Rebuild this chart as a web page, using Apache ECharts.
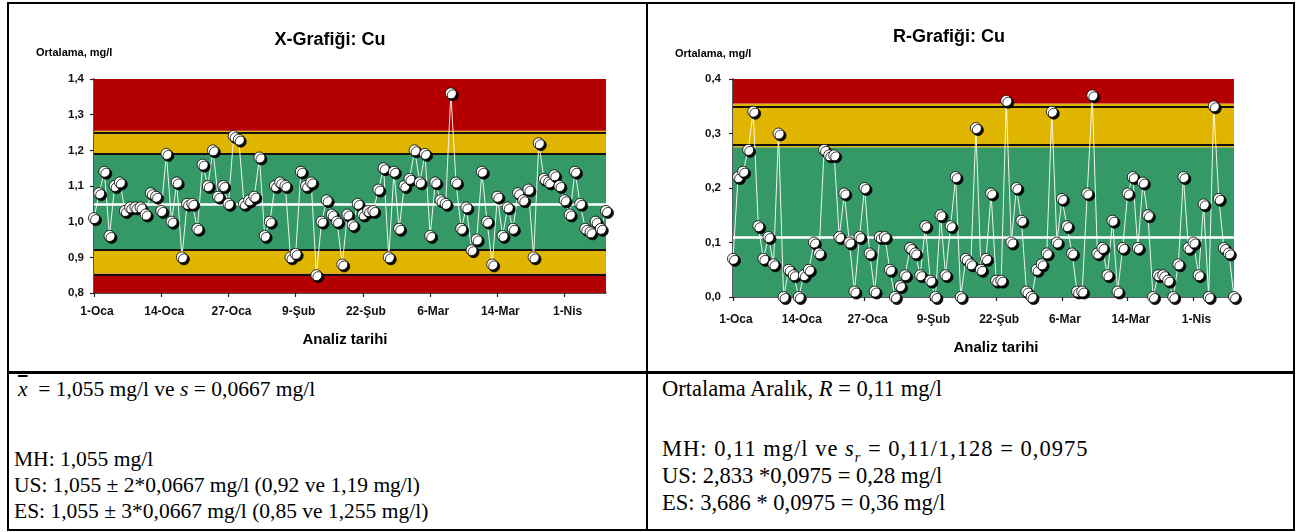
<!DOCTYPE html>
<html>
<head>
<meta charset="utf-8">
<script src="https://cdn.jsdelivr.net/npm/echarts@6/dist/echarts.min.js"></script>
<style>
html,body{margin:0;padding:0;background:#fff;}
#wrap{position:relative;width:1301px;height:532px;overflow:hidden;background:#fff;}
#chart{position:absolute;left:0;top:0;width:1301px;height:532px;}
.ln{position:absolute;background:#000;}
.t{position:absolute;font-family:"Liberation Serif","Times New Roman",serif;font-size:21.5px;color:#000;white-space:nowrap;line-height:1;}
.r{font-size:22.5px;}
.xbar{font-style:italic;text-decoration:overline;}
</style>
</head>
<body>
<div id="wrap">
  <div class="ln" style="left:7px;top:2px;width:1288px;height:2px;"></div>
  <div class="ln" style="left:7px;top:2px;width:2px;height:529px;"></div>
  <div class="ln" style="left:1293px;top:2px;width:2px;height:529px;"></div>
  <div class="ln" style="left:7px;top:529px;width:1288px;height:2px;"></div>
  <div class="ln" style="left:646px;top:2px;width:2px;height:529px;"></div>
  <div class="ln" style="left:7px;top:371px;width:1288px;height:3px;"></div>

  <div class="t" style="left:18px;top:379px;"><span class="xbar">x</span>&nbsp;&nbsp;= 1,055 mg/l ve <i>s</i> = 0,0667 mg/l</div>
  <div class="t" style="left:14px;top:449px;">MH: 1,055 mg/l</div>
  <div class="t" style="left:14px;top:475px;">US: 1,055 ± 2*0,0667 mg/l (0,92 ve 1,19 mg/l)</div>
  <div class="t" style="left:14px;top:501px;">ES: 1,055 ± 3*0,0667 mg/l (0,85 ve 1,255 mg/l)</div>

  <div class="t r" style="left:662px;top:378px;">Ortalama Aralık, <i>R</i> = 0,11 mg/l</div>
  <div class="t r" style="left:662px;top:438px;letter-spacing:1px;">MH: 0,11 mg/l ve <i>s<sub style="font-size:14px;">r</sub></i> = 0,11/1,128 = 0,0975</div>
  <div class="t r" style="left:662px;top:465px;">US: 2,833 *0,0975 = 0,28 mg/l</div>
  <div class="t r" style="left:662px;top:492px;">ES: 3,686 * 0,0975 = 0,36 mg/l</div>

  <div id="chart"></div>
</div>
<script>
// ---- data ----
const tickLabels = ['1-Oca','14-Oca','27-Oca','9-Şub','22-Şub','6-Mar','14-Mar','1-Nis'];
const xValues = [1.01,1.08,1.14,0.96,1.10,1.11,1.03,1.04,1.04,1.04,
                 1.02,1.08,1.07,1.03,1.19,1.00,1.11,0.90,1.05,1.05,
                 0.98,1.16,1.10,1.20,1.07,1.10,1.05,1.24,1.23,1.05,
                 1.06,1.07,1.18,0.96,1.00,1.10,1.11,1.10,0.90,0.91,
                 1.14,1.10,1.11,0.85,1.00,1.06,1.02,1.00,0.88,1.02,
                 0.99,1.05,1.02,1.03,1.03,1.09,1.15,0.90,1.14,0.98,
                 1.10,1.12,1.20,1.11,1.19,0.96,1.11,1.06,1.05,1.36,
                 1.11,0.98,1.04,0.92,0.95,1.14,1.00,0.88,1.07,0.96,
                 1.04,0.98,1.08,1.06,1.09,0.90,1.22,1.12,1.11,1.13,
                 1.10,1.06,1.02,1.14,1.05,0.98,0.97,1.00,0.98,1.03];
const rValues = [0.07,0.22,0.23,0.27,0.34,0.13,0.07,0.11,0.06,0.30,
                 0.00,0.05,0.04,0.00,0.04,0.05,0.10,0.08,0.27,0.26,
                 0.26,0.11,0.19,0.10,0.01,0.11,0.20,0.08,0.01,0.11,
                 0.11,0.05,0.00,0.02,0.04,0.09,0.08,0.04,0.13,0.03,
                 0.00,0.15,0.04,0.13,0.22,0.00,0.07,0.06,0.31,0.05,
                 0.07,0.19,0.03,0.03,0.36,0.10,0.20,0.14,0.01,0.00,
                 0.05,0.06,0.08,0.34,0.10,0.18,0.13,0.08,0.01,0.01,
                 0.19,0.37,0.08,0.09,0.04,0.14,0.01,0.09,0.19,0.22,
                 0.09,0.21,0.15,0.00,0.04,0.04,0.03,0.00,0.06,0.22,
                 0.09,0.10,0.04,0.17,0.00,0.35,0.18,0.09,0.08,0.00];
// control limits: [min, lower ES, lower US, upper US, upper ES, max]
const xLimits = [0.8, 0.855, 0.922, 1.188, 1.255, 1.4];
const xCenter = 1.055;
// R chart: [min, US, ES, max]
const rLimits = [0.0, 0.275, 0.355, 0.4];
const rCenter = 0.11;

// ---- styles ----
const RED = '#B40000', YEL = '#DFB500', GRN = '#359967';
const SANS = '"Liberation Sans", Arial, sans-serif';
const comma = v => v.toFixed(1).replace('.', ',');
const cats = xValues.map((_, i) => i + 1);

function xAxisCfg(gridIndex, margin) {
  return {
    type: 'category', gridIndex, data: cats, boundaryGap: false,
    axisLine: { onZero: false, lineStyle: { color: '#222', width: 1.5 } },
    axisTick: { interval: 12, length: 4, lineStyle: { color: '#222', width: 1.2 } },
    axisLabel: { interval: 12, margin, fontSize: 12, fontWeight: 'bold', color: '#111', fontFamily: SANS,
      padding: [0, 0, 0, 6],
      formatter: (v, i) => tickLabels[Math.round(i / 13)] || '' },
    splitLine: { show: false }
  };
}
function yAxisCfg(gridIndex, min, max, margin) {
  return {
    type: 'value', gridIndex, min, max, interval: 0.1,
    axisLine: { show: true, lineStyle: { color: '#222', width: 1.5 } },
    axisTick: { show: true, length: 4, lineStyle: { color: '#222', width: 1.2 } },
    axisLabel: { margin, fontSize: 11.5, fontWeight: 'bold', color: '#111', fontFamily: SANS, formatter: comma },
    splitLine: { show: false }
  };
}
function dataSeries(idx, values) {
  return {
    type: 'line', xAxisIndex: idx, yAxisIndex: idx, data: values, z: 5,
    symbol: 'circle', symbolSize: 11, showAllSymbol: true, silent: true,
    lineStyle: { color: '#fff', width: 1, opacity: 0.9 },
    itemStyle: { color: '#fff', borderColor: '#000', borderWidth: 0.8,
      shadowColor: 'rgba(0,0,0,0.95)', shadowBlur: 0, shadowOffsetX: 2, shadowOffsetY: 2 }
  };
}
function bandSeries(idx, values, areas, lines, center) {
  return {
    type: 'line', xAxisIndex: idx, yAxisIndex: idx, data: values, z: 1,
    showSymbol: false, silent: true, lineStyle: { opacity: 0 },
    markArea: { silent: true, z: 1, data: areas.map(a => [
      { yAxis: a[0], itemStyle: { color: a[2], borderWidth: 0 } }, { yAxis: a[1] }]) },
    markLine: { silent: true, z: 2, symbol: 'none', label: { show: false },
      lineStyle: { color: '#111', width: 2, type: 'solid' },
      data: lines.map(v => ({ yAxis: v })).concat([
        { yAxis: center, lineStyle: { color: '#fff', width: 2.5, type: 'solid' } }]) }
  };
}

const chart = echarts.init(document.getElementById('chart'), null, { renderer: 'canvas' });
chart.setOption({
  animation: false,
  backgroundColor: 'transparent',
  grid: [
    { left: 94, top: 79, width: 512, height: 214, containLabel: false },
    { left: 733, top: 79, width: 501, height: 218, containLabel: false }
  ],
  xAxis: [xAxisCfg(0, 13), xAxisCfg(1, 17)],
  yAxis: [yAxisCfg(0, xLimits[0], xLimits[5], 10), yAxisCfg(1, rLimits[0], rLimits[3], 12)],
  series: [
    bandSeries(0, xValues,
      [[xLimits[0], xLimits[1], RED], [xLimits[1], xLimits[2], YEL], [xLimits[2], xLimits[3], GRN],
       [xLimits[3], xLimits[4], YEL], [xLimits[4], xLimits[5], RED]],
      [xLimits[1], xLimits[2], xLimits[3], xLimits[4]], xCenter),
    dataSeries(0, xValues),
    bandSeries(1, rValues,
      [[rLimits[0], rLimits[1], GRN], [rLimits[1], rLimits[2], YEL], [rLimits[2], rLimits[3], RED]],
      [rLimits[1], rLimits[2]], rCenter),
    dataSeries(1, rValues)
  ],
  graphic: [
    { type: 'text', x: 330, y: 40, style: { text: 'X-Grafiği: Cu', fontSize: 18, fontWeight: 'bold', fontFamily: SANS, fill: '#000', align: 'center', verticalAlign: 'middle' } },
    { type: 'text', x: 949, y: 37, style: { text: 'R-Grafiği: Cu', fontSize: 18, fontWeight: 'bold', fontFamily: SANS, fill: '#000', align: 'center', verticalAlign: 'middle' } },
    { type: 'text', x: 36, y: 53, style: { text: 'Ortalama, mg/l', fontSize: 11, fontWeight: 'bold', fontFamily: SANS, fill: '#000', align: 'left', verticalAlign: 'middle' } },
    { type: 'text', x: 675, y: 54, style: { text: 'Ortalama, mg/l', fontSize: 11, fontWeight: 'bold', fontFamily: SANS, fill: '#000', align: 'left', verticalAlign: 'middle' } },
    { type: 'text', x: 345, y: 340, style: { text: 'Analiz tarihi', fontSize: 15, fontWeight: 'bold', fontFamily: SANS, fill: '#000', align: 'center', verticalAlign: 'middle' } },
    { type: 'text', x: 996, y: 348, style: { text: 'Analiz tarihi', fontSize: 15, fontWeight: 'bold', fontFamily: SANS, fill: '#000', align: 'center', verticalAlign: 'middle' } }
  ]
});
</script>
</body>
</html>
